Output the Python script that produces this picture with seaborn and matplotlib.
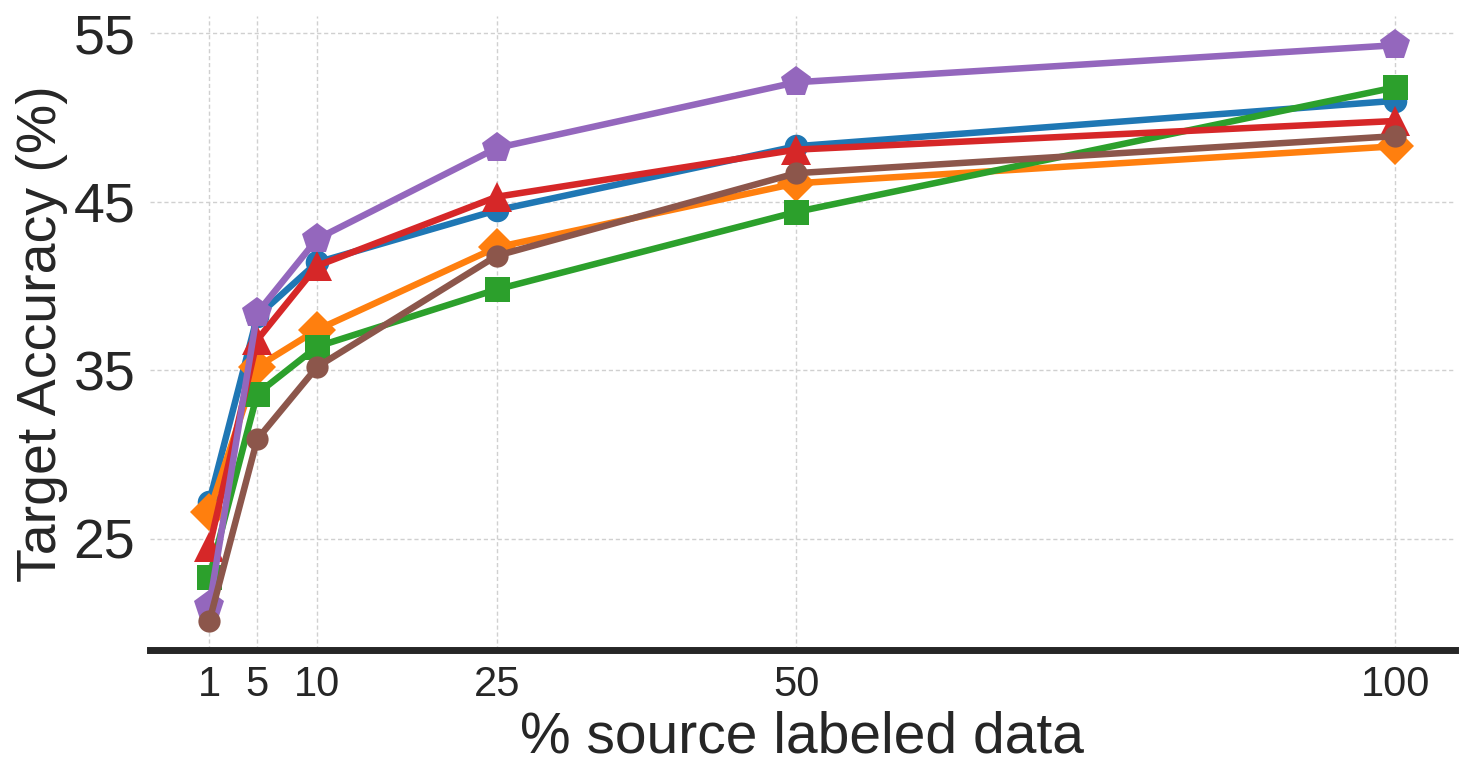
import pandas as pd
import seaborn as sns
import matplotlib.pyplot as plt

# x positions (% of labeled source data)
pct = [1, 5, 10, 25, 50, 100]

# target accuracy per method
acc_blue = [27.2, 38.2, 41.4, 44.5, 48.3, 51.0]
acc_orange = [26.6, 35.2, 37.4, 42.3, 46.1, 48.3]
acc_green = [22.7, 33.6, 36.4, 39.8, 44.4, 51.8]
acc_red = [24.5, 36.8, 41.2, 45.3, 48.1, 49.8]
acc_purple = [21.0, 38.4, 42.8, 48.2, 52.1, 54.3]
acc_brown = [20.1, 30.9, 35.2, 41.8, 46.7, 48.9]

methods = ['M1', 'M2', 'M3', 'M4', 'M5', 'M6']
series = [acc_blue, acc_orange, acc_green, acc_red, acc_purple, acc_brown]

rows = []
for m, vals in zip(methods, series):
    for x, v in zip(pct, vals):
        rows.append({'method': m, 'pct': x, 'acc': v})
df = pd.DataFrame(rows)

sns.set_style('whitegrid')
plt.rcParams['font.family'] = ['Liberation Sans', 'DejaVu Sans']

colors = ['#1f77b4', '#ff7f0e', '#2ca02c', '#d62728', '#9467bd', '#8c564b']
markers = ['o', 'D', 's', '^', 'p', 'o']
msizes = [17, 19, 18, 21, 23, 16]

fig = plt.figure(figsize=(14.65, 7.8), dpi=100)
ax = fig.add_axes([0.1024, 0.1667, 0.8906, 0.8123])

for m, c, mk, ms in zip(methods, colors, markers, msizes):
    sns.lineplot(data=df[df['method'] == m], x='pct', y='acc', ax=ax,
                 color=c, marker=mk, markersize=ms, markeredgewidth=0,
                 linewidth=4.7, legend=False)

ax.set_xticks(pct)
ax.set_yticks([25, 35, 45, 55])
ax.tick_params(axis='y', labelsize=40, length=7, color='#555555', width=1)
ax.tick_params(axis='x', labelsize=30, length=7, color='#555555', width=1)
ax.grid(True, linestyle=(0, (3, 2)), color='#d0d0d0', linewidth=1)

ax.set_xlabel('% source labeled data', fontsize=41, labelpad=4)
ax.set_ylabel('Target Accuracy (%)', fontsize=40, labelpad=4)

for side in ['left', 'top', 'right']:
    ax.spines[side].set_visible(False)
ax.spines['bottom'].set_linewidth(5)
ax.spines['bottom'].set_color('#262626')

fig.savefig('out.png', dpi=100)
